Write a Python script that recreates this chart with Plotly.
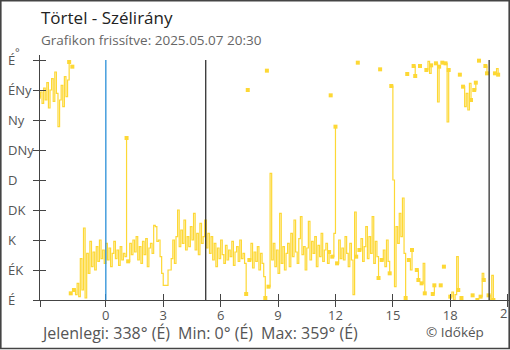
import plotly.graph_objects as go

# ---- figure geometry (pixels) ----
W, H = 510, 350
ML, MR, MT, MB = 40, 0, 55, 50
PW, PH = W - ML - MR, H - MT - MB

# ---- texts ----
title = "Törtel - Szélirány"
subtitle = "Grafikon frissítve: 2025.05.07 20:30"
footer_now = "Jelenlegi: 338° (É)"
footer_min = "Min: 0° (É)"
footer_max = "Max: 359° (É)"
credit = "© Időkép"
unit_label = "°"

# ---- axes ----
dir_vals = [0, 45, 90, 135, 180, 225, 270, 315, 360]
dir_labels = ["É", "ÉK", "K", "DK", "D", "DNy", "Ny", "ÉNy", "É"]
hour_ticks = [0, 3, 6, 9, 12, 15, 18, 21]
hour_range = [-3.44, 21.12]
deg_range = [0, 367.5]

# ---- wind direction, 5-minute readings from 20:30 (day before) to 20:30 ----
start_h = -3.5
step_h = 5 / 60
direction = [
    305, 312, 295, 318, 300, 326, 288, 315, 332, 298, 342, 310,   # 20:30
    260, 300, 322, 290, 335, 305, 330, 357, 10, 350, 15, 8,       # 21:30
    25, 5, 62, 15, 108, 3, 70, 40, 88, 50, 72, 45,                # 22:30
    80, 58, 90, 62, 75, 55, 85, 60, 78, 50, 70, 88,               # 23:30
    62, 75, 52, 80, 60, 70, 65, 243, 58, 85, 68, 90,              # 00:30
    72, 95, 60, 80, 55, 88, 68, 92, 50, 78, 85, 70,               # 01:30
    112, 110, 88, 90, 65, 40, 22, 22, 22, 45, 45, 62,             # 02:30
    90, 55, 95, 135, 80, 105, 85, 120, 75, 95, 80, 110,           # 03:30
    90, 130, 75, 100, 68, 115, 85, 95, 120, 78, 100, 70,          # 04:30
    95, 60, 85, 50, 78, 62, 90, 68, 55, 82, 60, 75,               # 05:30
    65, 88, 52, 72, 80, 58, 90, 62, 70, 55, 9, 315,               # 06:30
    60, 85, 48, 72, 58, 80, 45, 70, 55, 35, 3, 344,               # 07:30
    20, 190, 60, 85, 50, 75, 40, 130, 55, 80, 45, 70,             # 08:30
    85, 50, 100, 65, 120, 72, 55, 92, 125, 68, 80, 45,            # 09:30
    78, 118, 60, 88, 70, 95, 50, 82, 65, 100, 58, 75,             # 10:30
    85, 55, 72, 307, 65, 100, 260, 55, 90, 62, 78, 60,            # 11:30
    95, 70, 50, 85, 60, 8, 132, 65, 356, 75, 92, 58,              # 12:30
    80, 110, 62, 95, 70, 125, 55, 88, 65, 33, 346, 60,            # 13:30
    75, 50, 90, 58, 40, 321, 180, 20, 110, 85, 130, 95,           # 14:30
    153, 70, 3, 339, 60, 45, 75, 351, 336, 45, 30, 351,           # 15:30
    25, 55, 10, 345, 358, 340, 352, 9, 22, 355, 297, 350,         # 16:30
    22, 356, 50, 355, 267, 345, 5, 12, 0, 8, 65, 15,              # 17:30
    338, 3, 320, 290, 310, 285, 325, 300, 7, 315, 326, 0,         # 18:30
    359, 5, 40, 30, 351, 340, 7, 0, 37, 0, 340, 347,              # 19:30
    338,                                                          # 20:30
]

# reference lines: midnight, sunrise, sunset (hours)
midnight_h = 0.0
sunrise_h = 5.22
sunset_h = 20.03

LINE_YELLOW = "#fdd835"
AXIS_GREY = "#444444"
TEXT_GREY = "#555555"
FONT = "Open Sans"


def px_x(px):
    return (px - ML) / PW


def px_y(py):
    return (H - MB - py) / PH


# split the trace where the bearing wraps across north; segment ends get a marker
n = len(direction)
times = [start_h + i * step_h for i in range(n)]
wrap = [False] + [abs(direction[i] - direction[i - 1]) > 180 for i in range(1, n)]
line_x, line_y, mark_x, mark_y = [], [], [], []
for i in range(n):
    if wrap[i]:
        line_x.append(None)
        line_y.append(None)
    line_x.append(times[i])
    line_y.append(direction[i])
    seg_start = i == 0 or wrap[i]
    seg_end = i == n - 1 or wrap[i + 1]
    if seg_start or seg_end:
        mark_x.append(times[i])
        mark_y.append(direction[i])

fig = go.Figure()
fig.add_trace(go.Scatter(
    x=line_x, y=line_y, mode="lines", line=dict(color=LINE_YELLOW, width=1.2, shape="hv"),
    connectgaps=False, hoverinfo="skip", showlegend=False,
))
fig.add_trace(go.Scatter(
    x=mark_x, y=mark_y, mode="markers",
    marker=dict(symbol="square", size=4, color=LINE_YELLOW, line=dict(width=0)),
    hoverinfo="skip", showlegend=False,
))
# carrier for the outer tick marks
fig.add_trace(go.Scatter(x=[None], y=[None], xaxis="x2", yaxis="y2",
                         mode="lines", showlegend=False, hoverinfo="skip"))

for xv, col in [(midnight_h, "#2a8fd8"), (sunrise_h, "#333333"), (sunset_h, "#333333")]:
    fig.add_shape(type="line", xref="x", yref="y", x0=xv, x1=xv, y0=0, y1=360,
                  line=dict(color=col, width=1.3), layer="above")

# frame around the whole graphic
fig.add_shape(type="rect", xref="paper", yref="paper",
              x0=px_x(0.8), x1=px_x(509.2), y0=px_y(348.5), y1=px_y(0.8),
              line=dict(color=AXIS_GREY, width=1.6), fillcolor="rgba(0,0,0,0)", layer="above")

outer_ticks_x = [hour_range[0]] + hour_ticks
label_ticks_x = hour_ticks[:-1]   # the last hour label runs off the edge, drawn below

fig.update_layout(
    width=W, height=H,
    margin=dict(l=ML, r=MR, t=MT, b=MB),
    paper_bgcolor="white", plot_bgcolor="white",
    font=dict(family=FONT, color=TEXT_GREY, size=13),
    # labelled hour axis with inner tick halves
    xaxis=dict(range=hour_range, showgrid=False, zeroline=False,
               showline=True, linecolor=AXIS_GREY, linewidth=1.2,
               ticks="inside", ticklen=6, tickwidth=1.2, tickcolor=AXIS_GREY,
               tickvals=hour_ticks,
               ticktext=[str(h) if h in label_ticks_x else "" for h in hour_ticks],
               ticklabelstandoff=3,
               tickfont=dict(size=13, color=TEXT_GREY, family=FONT)),
    yaxis=dict(range=deg_range, showgrid=False, zeroline=False,
               showline=True, linecolor=AXIS_GREY, linewidth=1.2,
               ticks="outside", ticklen=6, tickwidth=1.2, tickcolor=AXIS_GREY,
               tickvals=dir_vals, showticklabels=False),
    # outer tick halves
    xaxis2=dict(range=hour_range, overlaying="x", anchor="y", side="bottom",
                showgrid=False, zeroline=False, showline=False,
                ticks="outside", ticklen=6, tickwidth=1.2, tickcolor=AXIS_GREY,
                tickvals=outer_ticks_x, showticklabels=False),
    yaxis2=dict(range=deg_range, overlaying="y", anchor="x", side="left",
                showgrid=False, zeroline=False, showline=False,
                ticks="inside", ticklen=6, tickwidth=1.2, tickcolor=AXIS_GREY,
                tickvals=dir_vals, showticklabels=False),
)

annotations = []
# left-aligned compass labels
for v, lab in zip(dir_vals, dir_labels):
    annotations.append(dict(text=lab, xref="paper", yref="y", x=px_x(6), y=v,
                            xanchor="left", yanchor="middle", showarrow=False,
                            font=dict(size=13, color=TEXT_GREY, family=FONT)))
# last hour label, cut by the right edge of the graphic
annotations.append(dict(text=str(hour_ticks[-1]), xref="x", yref="paper",
                        x=hour_ticks[-1], y=px_y(313), xanchor="center", yanchor="middle",
                        showarrow=False, font=dict(size=13, color=TEXT_GREY, family=FONT)))
annotations += [
    dict(text=unit_label, xref="paper", yref="paper", x=px_x(12.5), y=px_y(51),
         xanchor="left", yanchor="middle", showarrow=False,
         font=dict(size=11, color=TEXT_GREY, family=FONT)),
    dict(text=title, xref="paper", yref="paper", x=px_x(39), y=px_y(18),
         xanchor="left", yanchor="middle", showarrow=False,
         font=dict(size=17, color="#222222", family=FONT)),
    dict(text=subtitle, xref="paper", yref="paper", x=px_x(39), y=px_y(40),
         xanchor="left", yanchor="middle", showarrow=False,
         font=dict(size=13.5, color="#666666", family=FONT)),
    dict(text=footer_now, xref="paper", yref="paper", x=px_x(39), y=px_y(333),
         xanchor="left", yanchor="middle", showarrow=False,
         font=dict(size=16, color=TEXT_GREY, family=FONT)),
    dict(text=footer_min, xref="paper", yref="paper", x=px_x(176), y=px_y(333),
         xanchor="left", yanchor="middle", showarrow=False,
         font=dict(size=16, color=TEXT_GREY, family=FONT)),
    dict(text=footer_max, xref="paper", yref="paper", x=px_x(259), y=px_y(333),
         xanchor="left", yanchor="middle", showarrow=False,
         font=dict(size=16, color=TEXT_GREY, family=FONT)),
    dict(text=credit, xref="paper", yref="paper", x=px_x(424), y=px_y(332),
         xanchor="left", yanchor="middle", showarrow=False,
         font=dict(size=13.5, color=TEXT_GREY, family=FONT)),
]
fig.update_layout(annotations=annotations)

fig.write_html("out.html", config={"displayModeBar": False})
